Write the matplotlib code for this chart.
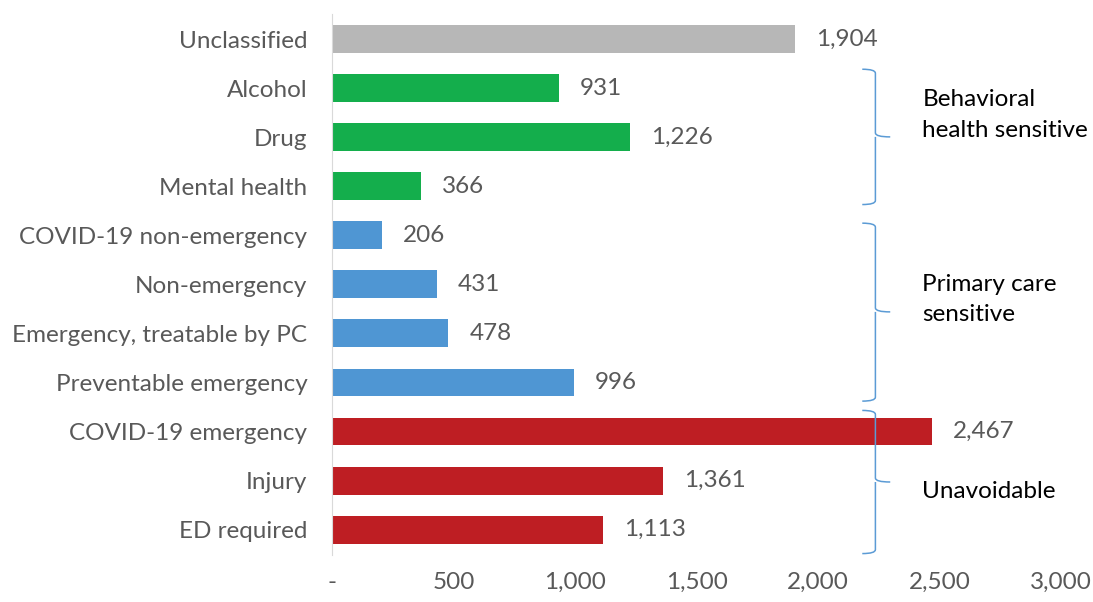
import numpy as np
import matplotlib.pyplot as plt
from matplotlib.path import Path
from matplotlib.patches import PathPatch

plt.rcParams['font.family'] = ['Lato', 'DejaVu Sans']

categories = ['Unclassified', 'Alcohol', 'Drug', 'Mental health',
              'COVID-19 non-emergency', 'Non-emergency',
              'Emergency, treatable by PC', 'Preventable emergency',
              'COVID-19 emergency', 'Injury', 'ED required']
values = [1904, 931, 1226, 366, 206, 431, 478, 996, 2467, 1361, 1113]
groups = ['other', 'bh', 'bh', 'bh', 'pc', 'pc', 'pc', 'pc', 'un', 'un', 'un']
group_colors = {'other': '#B7B7B7', 'bh': '#14AE4C', 'pc': '#4F96D3', 'un': '#BE1E23'}
xticks = [0, 500, 1000, 1500, 2000, 2500, 3000]
xticklabels = ['-', '500', '1,000', '1,500', '2,000', '2,500', '3,000']

# brace groups: (top row, bottom row, tip row, label row, label)
braces = [(0.61, 3.37, 1.99, 1.54, 'Behavioral\nhealth sensitive'),
          (3.75, 7.38, 5.56, 5.31, 'Primary care\nsensitive'),
          (7.57, 10.49, 9.03, 9.23, 'Unavoidable')]

fs = 17.5

fig = plt.figure(figsize=(10.93, 6.02), dpi=100)
ax = fig.add_axes([0.304, 0.078, 0.667, 0.899])

y = np.arange(len(categories))
colors = [group_colors[g] for g in groups]
ax.barh(y, values, height=0.57, color=colors)
for yi, v in zip(y, values):
    ax.annotate(f'{v:,}', (v, yi), xytext=(15, 0), textcoords='offset points',
                ha='left', va='center', fontsize=fs, color='#595959')

ax.set_ylim(len(categories) - 0.5 + 0.02, -0.5 - 0.02)
ax.set_xlim(0, 3000)
ax.set_yticks(y)
ax.set_yticklabels(categories, fontsize=fs, color='#595959')
ax.set_xticks(xticks)
ax.set_xticklabels(xticklabels, fontsize=fs, color='#595959')
ax.tick_params(length=0)
ax.tick_params(axis='y', pad=18)
ax.tick_params(axis='x', pad=12)
for s in ['top', 'right', 'bottom']:
    ax.spines[s].set_visible(False)
ax.spines['left'].set_color('#D9D9D9')

# curly braces
x0, x1, x2 = 2181, 2235, 2296
for top, bot, tip, ly, label in braces:
    r = 0.08
    verts = [(x0, top), (x1, top), (x1, top + r),
             (x1, tip - r), (x1, tip), (x2, tip),
             (x1, tip), (x1, tip + r),
             (x1, bot - r), (x1, bot), (x0, bot)]
    codes = [Path.MOVETO, Path.CURVE3, Path.CURVE3,
             Path.LINETO, Path.CURVE3, Path.CURVE3,
             Path.MOVETO, Path.CURVE3,
             Path.LINETO, Path.CURVE3, Path.CURVE3]
    ax.add_patch(PathPatch(Path(verts, codes), fill=False, edgecolor='#5B9BD5',
                           lw=1.1, clip_on=False))
    ax.text(2428, ly, label, ha='left', va='center', fontsize=fs,
            color='black', linespacing=1.55)

fig.savefig('out.png', dpi=100)
